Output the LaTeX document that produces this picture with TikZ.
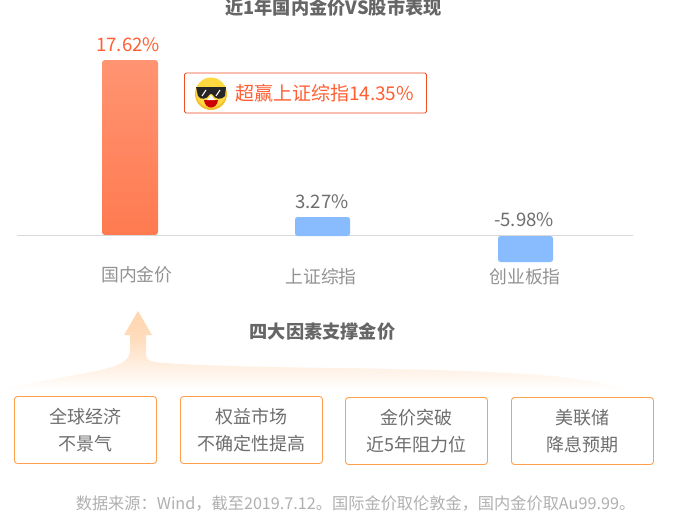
\documentclass[tikz,border=0pt]{standalone}
\usepackage{fontspec}
\setmainfont{Noto Sans CJK SC}
\usetikzlibrary{shadings}
\definecolor{txtgray}{HTML}{6E6E6E}
\definecolor{headgray}{HTML}{666666}
\definecolor{lblgray}{HTML}{929292}
\definecolor{srcgray}{HTML}{B0B0B0}
\definecolor{orangeline}{HTML}{FFA04D}
\definecolor{redline}{HTML}{F04E23}
\definecolor{redtxt}{HTML}{FF5F33}
\definecolor{bartop}{HTML}{FF9472}
\definecolor{barbot}{HTML}{FF7A50}
\definecolor{bluebar}{HTML}{88BCFF}
\definecolor{arrowtop}{HTML}{FFD5AE}
\definecolor{arrowmid}{HTML}{FFDDBF}
\definecolor{arrowpale}{HTML}{FFF1E5}
\definecolor{smile}{HTML}{FFD93F}
\definecolor{smiledark}{HTML}{F5BE2E}
\tikzset{
  x=1pt,y=-1pt,
  every node/.style={inner sep=0pt,outer sep=0pt},
  heading/.style={text=headgray,font=\fontsize{18.2}{21}\selectfont\bfseries},
  value/.style={text=txtgray,font=\fontsize{18.6}{22}\selectfont},
  axislabel/.style={text=lblgray,font=\fontsize{17.8}{20}\selectfont},
  factor/.style={draw=orangeline,line width=0.9pt,rounded corners=3pt,fill=white,minimum width=142pt,minimum height=67pt,align=center,text=txtgray,font=\fontsize{18}{27}\selectfont},
  barblue/.style={fill=bluebar,rounded corners=2.5pt},
}
\begin{document}
\begin{tikzpicture}
\useasboundingbox (0,0) rectangle (673,512);
\fill[white] (0,0) rectangle (673,512);
% title
\node[heading] (title) at (333.5,8) {近1年国内金价VS股市表现};
% axis
\coordinate (axl) at (17,235.5);
\coordinate (axr) at (633,235.5);
% bars
\shade[top color=bartop,bottom color=barbot,rounded corners=3pt] (102,60) rectangle (158,235);
\draw[draw=black!15,line width=0.8pt] (axl) -- (axr);
\fill[barblue] (295,217) rectangle (350,236);
\fill[barblue] (498,236) rectangle (553,262);
\node[value,text=redtxt] (v1) at (128,45) {17.62\%};
\node[value] (v2) at (322,202) {3.27\%};
\node[value] (v3) at (524,220) {-5.98\%};
\node[axislabel] (l1) at (137,275) {国内金价};
\node[axislabel] (l2) at (321,277) {上证综指};
\node[axislabel] (l3) at (525,277) {创业板指};
% callout
\node[draw=redline,line width=0.9pt,rounded corners=1.5pt,minimum width=242pt,minimum height=40pt] (call) at (305.5,93) {};
\node[text=redtxt,font=\fontsize{19}{22}\selectfont,anchor=west] (calltxt) at (235,93) {超赢上证综指14.35\%};
% emoji
\fill[smiledark] (211,94) circle (16pt);
\fill[smile] (211,92.5) circle (15pt);
\fill[black!85] (196,87) -- (226,87) -- (225,96) .. controls (222,100) and (215,100) .. (212,94) -- (210,94) .. controls (207,100) and (200,100) .. (198,96) -- cycle;
\draw[white,line width=1pt] (202,96) -- (206,90) (216,96) -- (220,90);
\fill[red!80!black] (204,100) -- (218,100) .. controls (217,110) and (205,110) .. (204,100) -- cycle;
\fill[white] (207,100) -- (215,100) -- (211,95) -- cycle;
% heading 2
\node[heading] (h2) at (322.5,332) {四大因素支撑金价};
% arrow
\begin{scope}
\clip (138,311) -- (152,335) -- (146,335) -- (146,354)
 .. controls (146,361) and (150,362) .. (165,363)
 .. controls (260,370) and (460,366) .. (560,377)
 .. controls (610,383) and (650,392) .. (673,407)
 -- (673,420) -- (0,420) -- (0,391)
 .. controls (40,380) and (80,375) .. (105,369)
 .. controls (125,364) and (130,358) .. (130,350)
 -- (130,335) -- (124,335) -- cycle;
\shade[top color=arrowtop,bottom color=arrowmid] (0,310) rectangle (673,340);
\shade[top color=arrowmid,bottom color=arrowpale] (0,340) rectangle (673,368);
\shade[top color=arrowpale,bottom color=white] (0,368) rectangle (673,390);
\end{scope}
% factor boxes
\node[factor] (f1) at (85.5,430) {全球经济\\不景气};
\node[factor] (f2) at (251.5,430) {权益市场\\不确定性提高};
\node[factor] (f3) at (416.5,431) {金价突破\\近5年阻力位};
\node[factor] (f4) at (582.5,431) {美联储\\降息预期};
% source
\node[text=srcgray,font=\fontsize{16.2}{18}\selectfont] (src) at (355.5,503) {数据来源：Wind，截至2019.7.12。国际金价取伦敦金，国内金价取Au99.99。};
\end{tikzpicture}
\end{document}
